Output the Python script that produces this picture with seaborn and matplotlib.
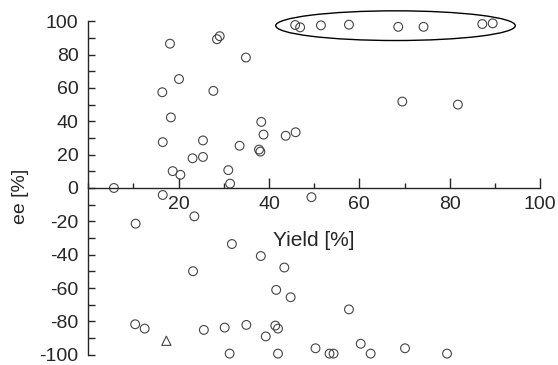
import numpy as np
import pandas as pd
import matplotlib
matplotlib.use("Agg")
import matplotlib.pyplot as plt
from matplotlib.patches import Ellipse
from matplotlib.ticker import MultipleLocator
import seaborn as sns

# Datos
# ==============================================================================
yield_pct = [5.7, 18.1, 28.5, 29.1, 34.9, 20.1, 16.4, 27.7, 18.3, 38.3,
             38.8, 16.5, 25.4, 33.5, 37.8, 38.1, 23.1, 25.4, 18.7, 20.4,
             31.0, 31.4, 45.8, 46.9, 51.5, 57.7, 68.6, 74.2, 87.2, 89.5,
             69.5, 81.8, 43.7, 45.9, 16.5, 23.5, 10.5, 31.8, 38.2, 23.2,
             41.6, 10.4, 12.5, 25.6, 30.2, 35.0, 41.4, 42.0, 39.3, 31.3,
             42.0, 49.4, 43.4, 44.8, 57.7, 50.3, 53.4, 54.3, 60.3, 62.5,
             70.1, 79.4]
ee_pct = [0.0, 86.5, 89.2, 91.0, 78.2, 65.3, 57.4, 58.2, 42.3, 39.6,
          32.0, 27.5, 28.5, 25.3, 23.0, 21.8, 17.8, 18.6, 10.1, 7.9,
          10.7, 2.6, 97.7, 96.3, 97.5, 97.9, 96.6, 96.6, 98.3, 98.7,
          51.8, 50.0, 31.3, 33.4, -4.2, -17.0, -21.4, -33.6, -40.8, -49.9,
          -61.1, -81.7, -84.3, -85.1, -83.7, -82.1, -82.5, -84.3, -89.0, -99.3,
          -99.3, -5.5, -47.7, -65.5, -72.8, -96.1, -99.3, -99.3, -93.4, -99.3,
          -96.1, -99.3]
tri_yield = [17.3]
tri_ee = [-91.6]

datos = pd.DataFrame({"Yield": yield_pct, "ee": ee_pct})
datos_tri = pd.DataFrame({"Yield": tri_yield, "ee": tri_ee})

# Configuracion
# ==============================================================================
sns.set_style("ticks")
plt.rcParams['font.family'] = ['Liberation Sans', 'DejaVu Sans']
plt.rcParams['axes.unicode_minus'] = False

fig = plt.figure(figsize=(5.58, 3.65), dpi=100)
ax = fig.add_axes([0.158, 0.028, 0.81, 0.914])

edge = "#444444"
sns.scatterplot(data=datos, x="Yield", y="ee", marker="o", s=40,
                facecolor="none", edgecolor=edge, linewidth=0.8, ax=ax,
                clip_on=False)
sns.scatterplot(data=datos_tri, x="Yield", y="ee", marker="^", s=44,
                facecolor="none", edgecolor=edge, linewidth=0.8, ax=ax,
                clip_on=False)

# elipse alrededor del grupo superior
ax.add_patch(Ellipse((68.0, 97.3), 53.0, 17.8, fill=False,
                     edgecolor="black", linewidth=1.0, clip_on=False))

ax.set_xlim(0, 100)
ax.set_ylim(-100, 100)
ax.spines['left'].set_position(('data', 0))
ax.spines['bottom'].set_position(('data', 0))
ax.spines['top'].set_visible(False)
ax.spines['right'].set_visible(False)
for s in ['left', 'bottom']:
    ax.spines[s].set_linewidth(1.0)

ax.xaxis.set_major_locator(MultipleLocator(20))
ax.xaxis.set_minor_locator(MultipleLocator(10))
ax.yaxis.set_major_locator(MultipleLocator(20))
ax.yaxis.set_minor_locator(MultipleLocator(10))
ax.set_xticks([20, 40, 60, 80, 100])
ax.tick_params(axis='x', which='major', direction='in', length=7, width=1,
               labelsize=14, pad=6)
ax.tick_params(axis='x', which='minor', direction='in', length=3.5, width=1)
ax.tick_params(axis='y', which='major', direction='in', length=5, width=1,
               labelsize=14, pad=7)
ax.tick_params(axis='y', which='minor', direction='in', length=5, width=1)

ax.set_xlabel("Yield [%]", fontsize=15, labelpad=13)
ax.set_ylabel("ee [%]", fontsize=14)
ax.yaxis.set_label_coords(-0.13, 0.475)

plt.savefig("out.png", dpi=100)
